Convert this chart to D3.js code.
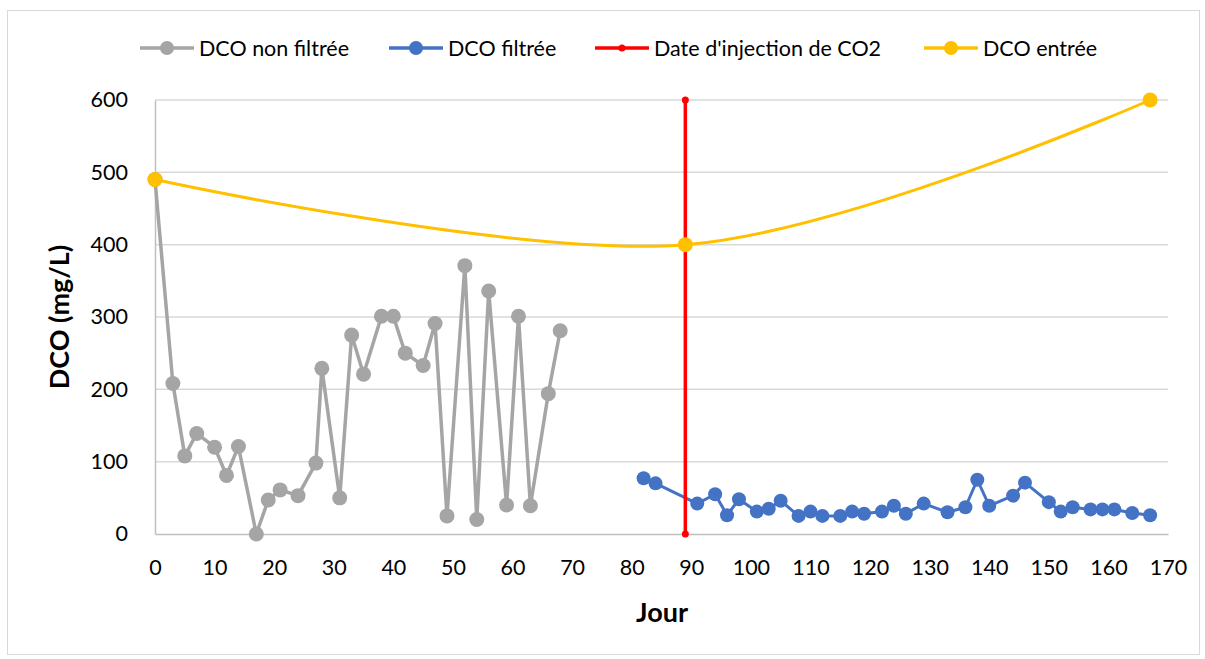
<!DOCTYPE html>
<html><head><meta charset="utf-8">
<script src="https://cdn.jsdelivr.net/npm/d3@7"></script>
<style>body{margin:0;background:#fff}svg{display:block}text{font-family:Lato,"Open Sans",sans-serif}</style>
</head><body>
<svg id="c" width="1205" height="659"></svg>
<script>
const nonFiltreeDays = [0,3,5,7,10,12,14,17,19,21,24,27,28,31,33,35,38,40,42,45,47,49,52,54,56,59,61,63,66,68];
const nonFiltreeVals = [490,208,108,139,120,81,121,0,47,61,53,98,229,50,275,221,301,301,250,233,291,25,371,20,336,40,301,39,194,281];
const filtreeDays = [82,84,91,94,96,98,101,103,105,108,110,112,115,117,119,122,124,126,129,133,136,138,140,144,146,150,152,154,157,159,161,164,167];
const filtreeVals = [77,70,42,55,26,48,31,35,46,25,31,25,25,31,28,31,39,28,42,30,37,75,39,53,71,44,31,37,34,34,34,29,26];
const injectionDays = [89,89];
const injectionVals = [0,600];
const entreeDays = [0,89,167];
const entreeVals = [490,400,600];
const xTicks = [0,10,20,30,40,50,60,70,80,90,100,110,120,130,140,150,160,170];
const yTicks = [0,100,200,300,400,500,600];
const legendLabels = ["DCO non filtrée","DCO filtrée","Date d'injection de CO2","DCO entrée"];
const xTitle = "Jour", yTitle = "DCO (mg/L)";

const svg = d3.select("#c");
svg.append("rect").attr("x",7.5).attr("y",10.5).attr("width",1192).attr("height",644)
  .attr("fill","#fff").attr("stroke","#d9d9d9").attr("stroke-width",1);

const x = d3.scaleLinear().domain([0,170]).range([155,1168]);
const y = d3.scaleLinear().domain([0,600]).range([534,100]);

// gridlines
svg.append("g").selectAll("line").data(yTicks.filter(d=>d>0)).join("line")
  .attr("x1",x(0)).attr("x2",x(170)).attr("y1",d=>y(d)).attr("y2",d=>y(d))
  .attr("stroke","#d9d9d9").attr("stroke-width",1.5);

// axes
const xAxis = d3.axisBottom(x).tickValues(xTicks).tickSize(0).tickPadding(26).tickFormat(d3.format("d"));
const gx = svg.append("g").attr("transform",`translate(0,${y(0)})`).call(xAxis);
gx.select(".domain").attr("stroke","#bfbfbf").attr("stroke-width",1.5);
gx.selectAll("text").attr("font-size",21.5).attr("fill","#000").attr("font-family","Lato");
const yAxis = d3.axisLeft(y).tickValues(yTicks).tickSize(0).tickPadding(27).tickFormat(d3.format("d"));
const gy = svg.append("g").attr("transform",`translate(${x(0)},0)`).call(yAxis);
gy.select(".domain").attr("stroke","#bfbfbf").attr("stroke-width",1.5);
gy.selectAll("text").attr("font-size",21.5).attr("fill","#000").attr("font-family","Lato");

svg.append("text").attr("x",662).attr("y",622).attr("text-anchor","middle")
  .attr("font-size",27).attr("font-weight","bold").text(xTitle);
svg.append("text").attr("transform","translate(69,317) rotate(-90)").attr("text-anchor","middle")
  .attr("font-size",27).attr("font-weight","bold").text(yTitle);

function series(days, vals, color, lw, r, curve){
  const pts = days.map((d,i)=>[d,vals[i]]);
  const line = d3.line().x(d=>x(d[0])).y(d=>y(d[1])).curve(curve||d3.curveLinear);
  svg.append("path").datum(pts).attr("d",line).attr("fill","none")
    .attr("stroke",color).attr("stroke-width",lw).attr("stroke-linejoin","round");
  svg.append("g").selectAll("circle").data(pts).join("circle")
    .attr("cx",d=>x(d[0])).attr("cy",d=>y(d[1])).attr("r",r).attr("fill",color);
}
series(nonFiltreeDays, nonFiltreeVals, "#A5A5A5", 3.5, 7.5);
series(filtreeDays, filtreeVals, "#4472C4", 3, 7);
series(injectionDays, injectionVals, "#FF0000", 3.5, 3.5);
series(entreeDays, entreeVals, "#FFC000", 3, 7.5, d3.curveCardinal.tension(0));

// legend
const legendColors = ["#A5A5A5","#4472C4","#FF0000","#FFC000"];
const legendX = [140,389,595,924];
const legendR = [7,7,3.5,7];
const lg = svg.append("g");
legendLabels.forEach((lab,i)=>{
  const g = lg.append("g").attr("transform",`translate(${legendX[i]},48)`);
  g.append("line").attr("x1",0).attr("x2",54).attr("stroke",legendColors[i]).attr("stroke-width",3.5);
  g.append("circle").attr("cx",27).attr("r",legendR[i]).attr("fill",legendColors[i]);
  g.append("text").attr("x",59).attr("y",7.5).attr("font-size",21.5).text(lab);
});
</script>
</body></html>
